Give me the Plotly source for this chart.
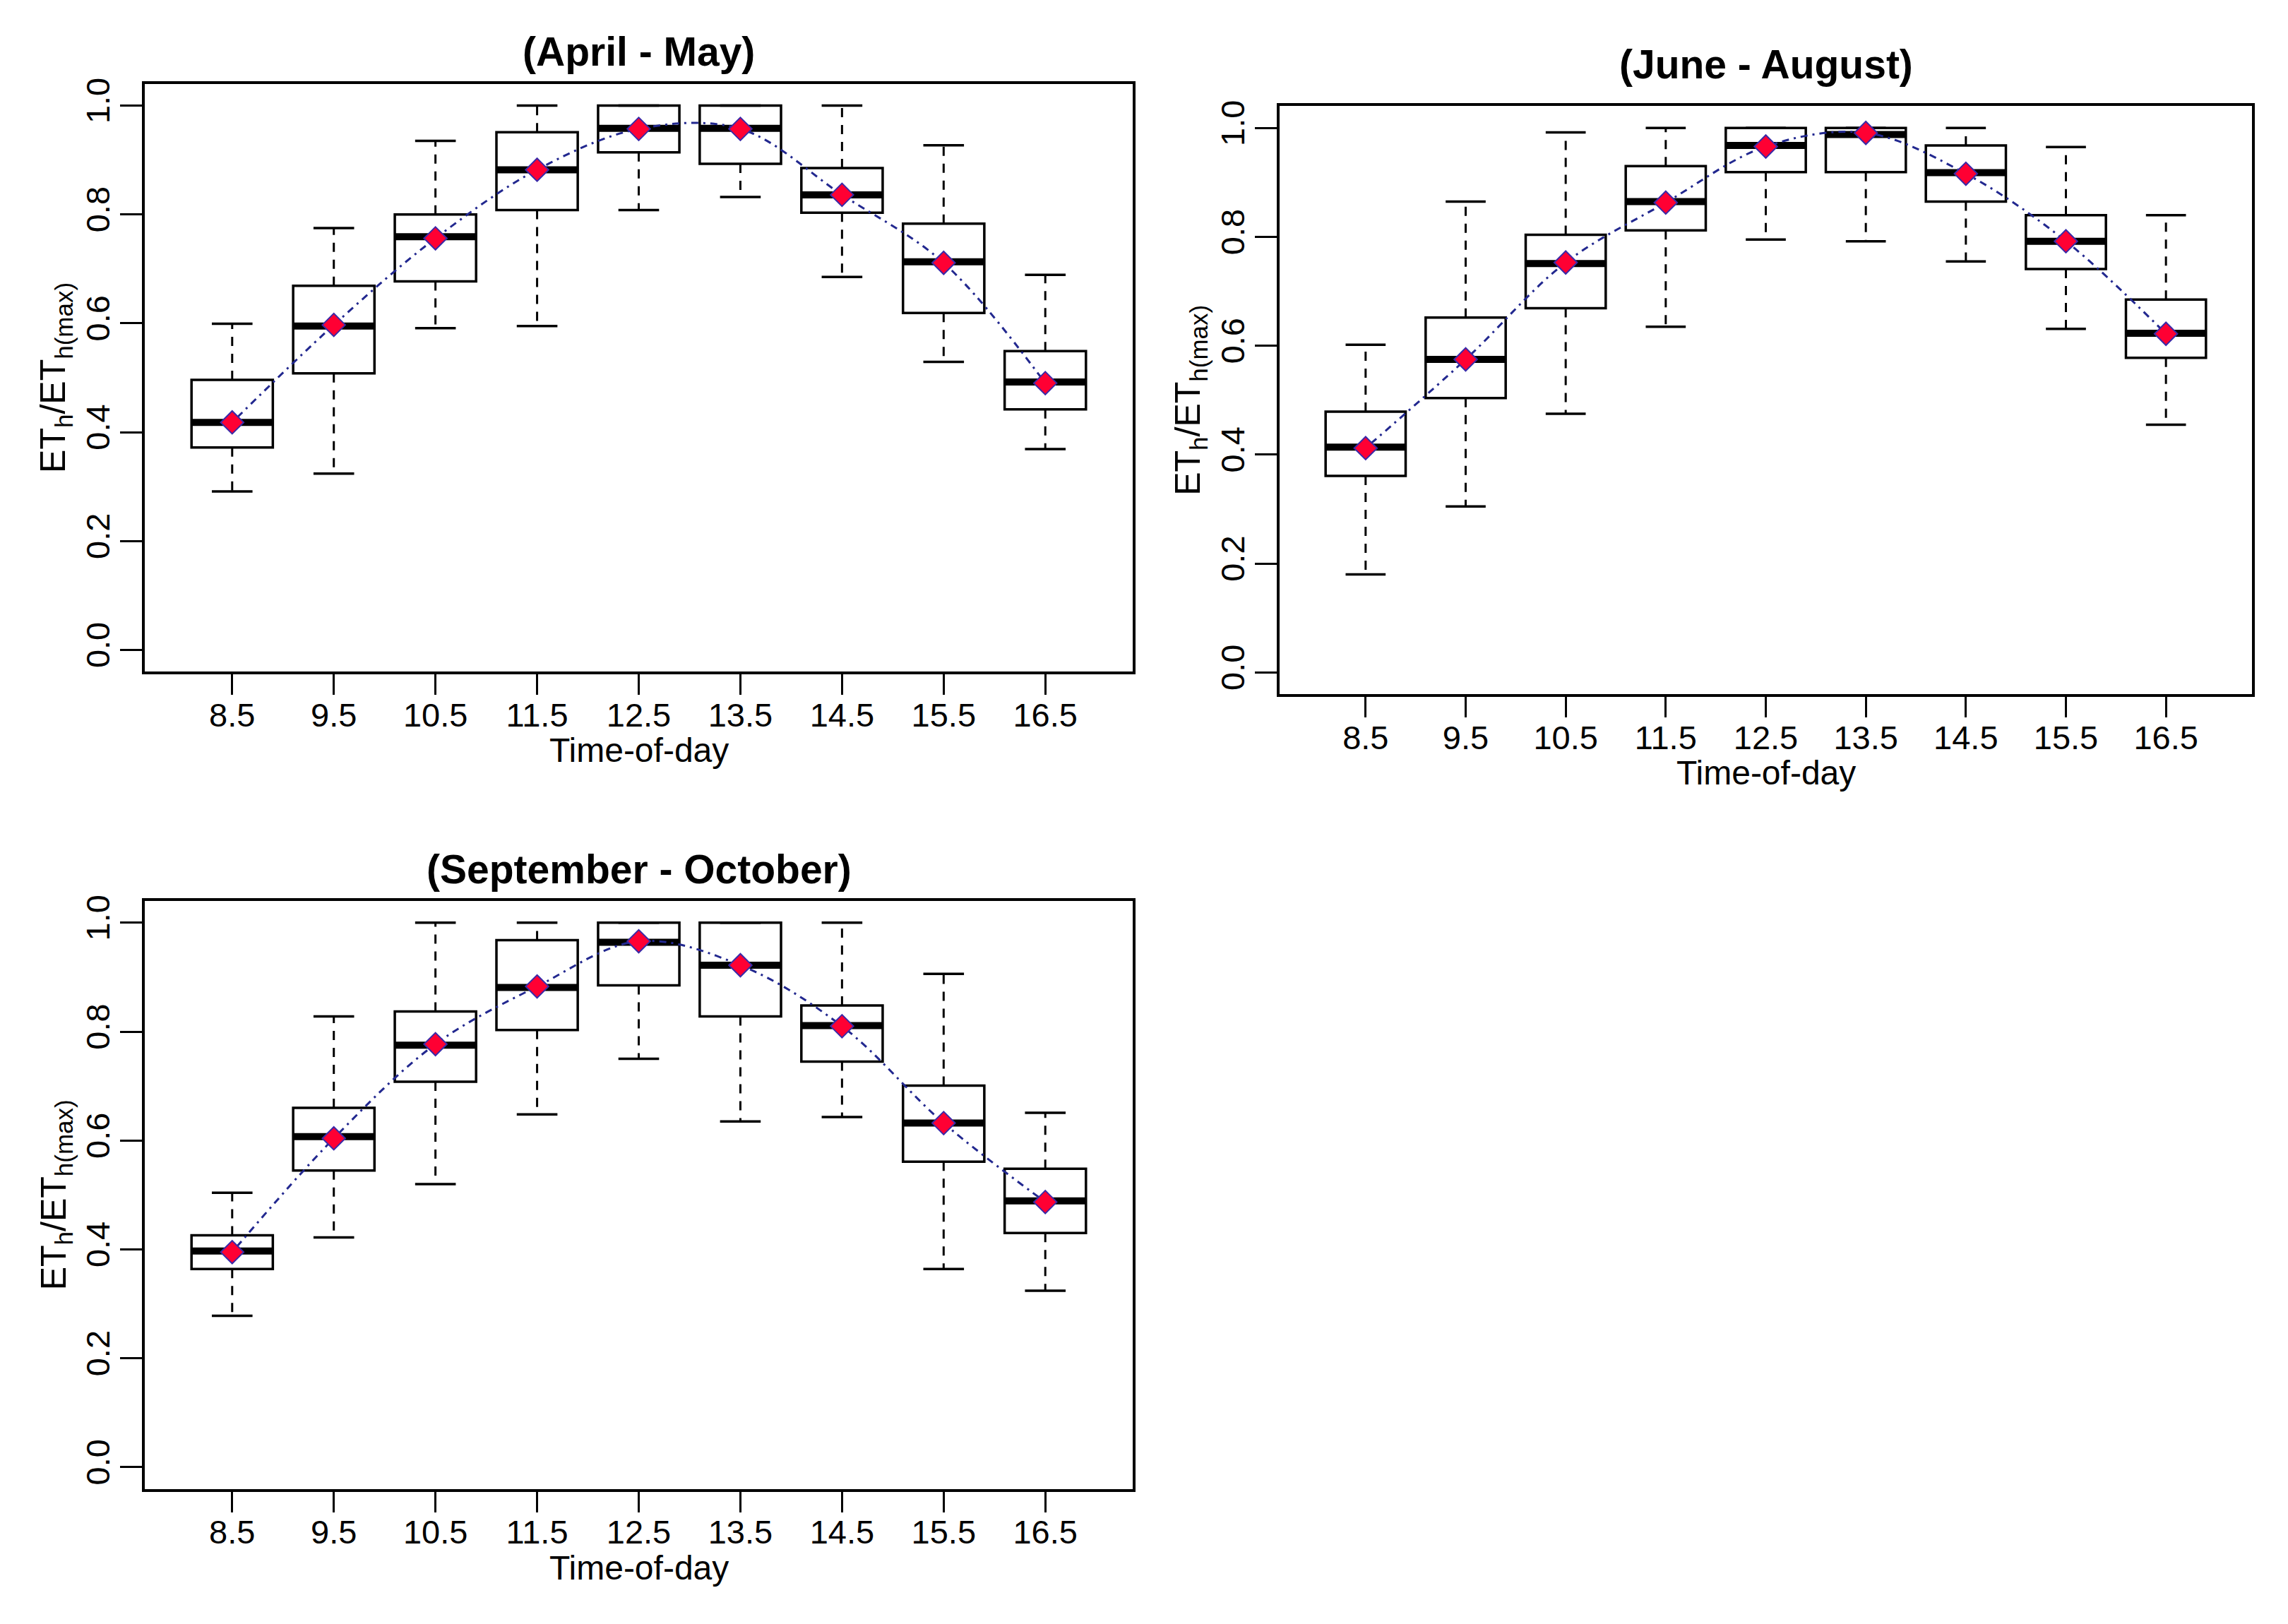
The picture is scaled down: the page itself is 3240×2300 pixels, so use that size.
import plotly.graph_objects as go

# ---------------- data ----------------
hours = [8.5, 9.5, 10.5, 11.5, 12.5, 13.5, 14.5, 15.5, 16.5]
x_tick_text = ["8.5", "9.5", "10.5", "11.5", "12.5", "13.5", "14.5", "15.5", "16.5"]
y_ticks = [0.0, 0.2, 0.4, 0.6, 0.8, 1.0]
y_tick_text = ["0.0", "0.2", "0.4", "0.6", "0.8", "1.0"]
titles = ["(April - May)", "(June - August)", "(September - October)"]
x_label = "Time-of-day"
y_label = "ET<sub>h</sub>/ET<sub>h(max)</sub>"

# April - May
am_low = [0.291, 0.324, 0.591, 0.595, 0.808, 0.832, 0.685, 0.529, 0.369]
am_q1 = [0.372, 0.508, 0.677, 0.808, 0.914, 0.893, 0.803, 0.619, 0.442]
am_med = [0.418, 0.595, 0.759, 0.882, 0.958, 0.958, 0.836, 0.713, 0.492]
am_q3 = [0.496, 0.669, 0.800, 0.951, 1.000, 1.000, 0.885, 0.783, 0.549]
am_high = [0.599, 0.775, 0.935, 1.000, 1.000, 1.000, 1.000, 0.927, 0.689]
am_mean = [0.418, 0.597, 0.756, 0.882, 0.957, 0.957, 0.836, 0.711, 0.490]

# June - August
ja_low = [0.180, 0.305, 0.475, 0.635, 0.795, 0.792, 0.755, 0.631, 0.455]
ja_q1 = [0.361, 0.504, 0.669, 0.812, 0.919, 0.919, 0.865, 0.741, 0.578]
ja_med = [0.414, 0.575, 0.751, 0.865, 0.968, 0.988, 0.918, 0.792, 0.623]
ja_q3 = [0.479, 0.652, 0.804, 0.930, 1.000, 1.000, 0.968, 0.840, 0.685]
ja_high = [0.602, 0.865, 0.992, 1.000, 1.000, 1.000, 1.000, 0.965, 0.840]
ja_mean = [0.412, 0.575, 0.753, 0.863, 0.966, 0.991, 0.916, 0.792, 0.622]

# September - October
so_low = [0.278, 0.422, 0.520, 0.648, 0.750, 0.635, 0.643, 0.364, 0.324]
so_q1 = [0.364, 0.545, 0.708, 0.803, 0.885, 0.828, 0.745, 0.561, 0.430]
so_med = [0.397, 0.607, 0.775, 0.881, 0.964, 0.922, 0.811, 0.632, 0.489]
so_q3 = [0.426, 0.660, 0.837, 0.968, 1.000, 1.000, 0.848, 0.701, 0.548]
so_high = [0.504, 0.828, 1.000, 1.000, 1.000, 1.000, 1.000, 0.906, 0.651]
so_mean = [0.395, 0.604, 0.777, 0.883, 0.966, 0.922, 0.810, 0.632, 0.487]

series = [
    (am_low, am_q1, am_med, am_q3, am_high, am_mean),
    (ja_low, ja_q1, ja_med, ja_q3, ja_high, ja_mean),
    (so_low, so_q1, so_med, so_q3, so_high, so_mean),
]

# ---------------- layout geometry (page pixels) ----------------
PAGE_W, PAGE_H = 3240, 2300
OFF = 8                      # default body margin of the html page
W, H = PAGE_W - 2 * OFF, PAGE_H - 2 * OFF
X_RANGE = [7.64, 17.36]
Y_RANGE = [-0.04, 1.04]
BOX_W = 0.8
panels = [
    dict(x0=205, x1=1604, y0=110, y1=946, ty=64),
    dict(x0=1812, x1=3189, y0=142, y1=978, ty=82),
    dict(x0=205, x1=1604, y0=1272, y1=2108, ty=1227),
]

FONT = "Liberation Sans, Arial"
TICK_SIZE = 47
BLACK = "black"


def fx(px):
    return (px - OFF) / W


def fy(py):
    return 1 - (py - OFF) / H


fig = go.Figure()
layout = dict(
    width=W, height=H, margin=dict(l=0, r=0, t=0, b=0, pad=0),
    paper_bgcolor="white", plot_bgcolor="white", showlegend=False,
    annotations=[],
)

for i, (p, (lo, q1, med, q3, hi, mn)) in enumerate(zip(panels, series)):
    n = "" if i == 0 else str(i + 1)
    xa, ya = "x" + n, "y" + n
    px_per_unit = (p["x1"] - p["x0"]) / (X_RANGE[1] - X_RANGE[0])
    med_size = BOX_W * px_per_unit / 1.4
    staple_size = 0.5 * BOX_W * px_per_unit / 1.4

    fig.add_trace(go.Box(
        x=hours, q1=q1, median=med, q3=q3, lowerfence=q1, upperfence=q3,
        width=BOX_W, whiskerwidth=0, fillcolor="white",
        line=dict(color=BLACK, width=3.5), boxpoints=False,
        hoverinfo="skip", xaxis=xa, yaxis=ya))

    wx, wy = [], []
    for h, a, b, c, d in zip(hours, lo, q1, q3, hi):
        wx += [h, h, None, h, h, None]
        wy += [c, d, None, b, a, None]
    fig.add_trace(go.Scatter(
        x=wx, y=wy, mode="lines",
        line=dict(color=BLACK, width=3, dash="13px,11px"),
        hoverinfo="skip", xaxis=xa, yaxis=ya))

    fig.add_trace(go.Scatter(
        x=hours + hours, y=hi + lo, mode="markers",
        marker=dict(symbol="line-ew", size=staple_size,
                    line=dict(color=BLACK, width=3.5)),
        hoverinfo="skip", xaxis=xa, yaxis=ya))

    fig.add_trace(go.Scatter(
        x=hours, y=med, mode="markers",
        marker=dict(symbol="line-ew", size=med_size,
                    line=dict(color=BLACK, width=10)),
        hoverinfo="skip", xaxis=xa, yaxis=ya))

    fig.add_trace(go.Scatter(
        x=hours, y=mn, mode="lines",
        line=dict(color="#22288f", width=3, dash="3px,7px,10px,7px",
                  shape="spline", smoothing=1.0),
        hoverinfo="skip", xaxis=xa, yaxis=ya))

    fig.add_trace(go.Scatter(
        x=hours, y=mn, mode="markers",
        marker=dict(symbol="diamond", size=25, color="#ff0033",
                    line=dict(color="#3a2aa8", width=2)),
        hoverinfo="skip", xaxis=xa, yaxis=ya))

    layout["xaxis" + n] = dict(
        domain=[fx(p["x0"]), fx(p["x1"])], range=X_RANGE, anchor=ya,
        tickmode="array", tickvals=hours, ticktext=x_tick_text,
        ticks="outside", ticklen=29, tickwidth=3, tickcolor=BLACK,
        ticklabelstandoff=-12,
        showline=True, linecolor=BLACK, linewidth=4, mirror=True,
        showgrid=False, zeroline=False,
        tickfont=dict(family=FONT, size=TICK_SIZE, color=BLACK))
    layout["yaxis" + n] = dict(
        domain=[fy(p["y1"]), fy(p["y0"])], range=Y_RANGE, anchor=xa,
        tickmode="array", tickvals=y_ticks, ticktext=y_tick_text,
        tickangle=-90, ticklabelstandoff=-4,
        ticks="outside", ticklen=31, tickwidth=3, tickcolor=BLACK,
        showline=True, linecolor=BLACK, linewidth=4, mirror=True,
        showgrid=False, zeroline=False,
        tickfont=dict(family=FONT, size=TICK_SIZE, color=BLACK))

    cx = fx((p["x0"] + p["x1"]) / 2)
    layout["annotations"] += [
        dict(text="<b>" + titles[i] + "</b>", xref="paper", yref="paper",
             x=cx, y=fy(p["ty"]), xanchor="center", yanchor="middle",
             showarrow=False, font=dict(family=FONT, size=57, color=BLACK)),
        dict(text=x_label, xref="paper", yref="paper",
             x=cx, y=fy(p["y1"] + 112), xanchor="center", yanchor="middle",
             showarrow=False, font=dict(family=FONT, size=48, color=BLACK)),
        dict(text=y_label, xref="paper", yref="paper", textangle=-90,
             x=fx(p["x0"] - 126), y=fy((p["y0"] + p["y1"]) / 2),
             xanchor="center", yanchor="middle",
             showarrow=False, font=dict(family=FONT, size=50, color=BLACK)),
    ]

fig.update_layout(**layout)
fig.write_html("out.html")
